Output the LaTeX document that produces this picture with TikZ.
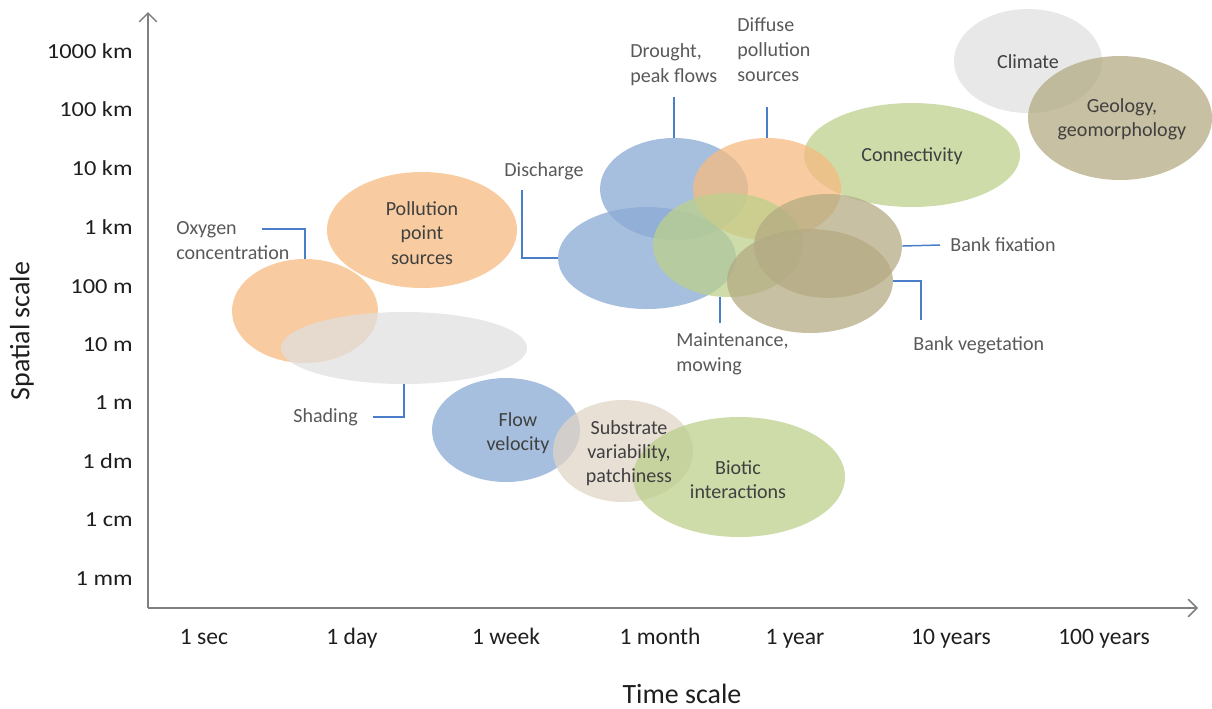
\documentclass[tikz,border=0pt]{standalone}
\usepackage{fontspec}
\setmainfont{Carlito}
\usetikzlibrary{shapes.geometric,arrows.meta}
\definecolor{cOr}{RGB}{246,186,128}
\definecolor{cBl}{RGB}{138,170,212}
\definecolor{cGr}{RGB}{188,208,139}
\definecolor{cKh}{RGB}{180,171,131}
\definecolor{cGy}{RGB}{224,224,224}
\definecolor{cBe}{RGB}{224,212,199}
\definecolor{cConn}{RGB}{74,126,200}
\definecolor{cAxis}{RGB}{128,128,128}
\definecolor{cIn}{RGB}{64,64,64}
\definecolor{cLb}{RGB}{89,89,89}
\definecolor{cAx}{RGB}{30,30,30}
\tikzset{
  ell/.style 2 args={ellipse, minimum width=#1*0.02cm, minimum height=#2*0.02cm, inner sep=0pt, draw=none, fill opacity=0.75},
  inlbl/.style={text=cIn, align=center, inner sep=0pt, font=\fontsize{11.4}{13.8}\selectfont},
  conlbl/.style={text=cLb, align=left, inner sep=0pt, font=\fontsize{11.4}{14.2}\selectfont},
  conn/.style={draw=cConn, line width=0.85pt},
  axis/.style={draw=cAxis, line width=0.85pt, -{Straight Barb[length=5pt,width=10pt]}},
  ytick/.style={text=cAx, anchor=base east, inner sep=0pt, xscale=1.14, font=\fontsize{12.2}{14}\selectfont},
  xtick/.style={text=cAx, anchor=base, inner sep=0pt, font=\fontsize{13.4}{16}\selectfont},
  axtitle/.style={text=cAx, inner sep=0pt, font=\fontsize{15.9}{18}\selectfont}
}
\begin{document}
\begin{tikzpicture}[x=0.02cm,y=-0.02cm]
\useasboundingbox (0,0) rectangle (1212,708);
% ellipses
\node[ell={148}{104}, fill=cGy] (climate) at (1028,61) {};
\node[ell={184}{124}, fill=cKh] (geology) at (1120,118) {};
\node[ell={216}{104}, fill=cGr] (connect) at (912,155) {};
\node[ell={190}{116}, fill=cOr] (pollpt) at (422,230) {};
\node[ell={146}{104}, fill=cOr] (oxy) at (305,311) {};
\node[ell={246}{72}, fill=cGy] (shade) at (404,348) {};
\node[ell={148}{104}, fill=cBl] (flow) at (506,430) {};
\node[ell={140}{102}, fill=cBe] (substr) at (623,451) {};
\node[ell={212}{120}, fill=cGr] (biotic) at (739,477) {};
\node[ell={178}{102}, fill=cBl] (disch) at (647,258) {};
\node[ell={148}{102}, fill=cBl] (drought) at (674,189) {};
\node[ell={148}{102}, fill=cOr] (diffuse) at (767,189) {};
\node[ell={150}{104}, fill=cGr] (maint) at (728,245) {};
\node[ell={148}{104}, fill=cKh] (bankfix) at (828,246) {};
\node[ell={166}{104}, fill=cKh] (bankveg) at (810,281) {};
% inner labels
\node[inlbl] (tClimate) at (1028,62) {Climate};
\node[inlbl] (tGeology) at (1122,119) {Geology,\\geomorphology};
\node[inlbl] (tConnect) at (912,156) {Connectivity};
\node[inlbl] (tPollpt) at (422,233) {Pollution\\point\\sources};
\node[inlbl] (tFlow) at (518,433) {Flow\\velocity};
\node[inlbl] (tSubstr) at (629,453) {Substrate\\variability,\\patchiness};
\node[inlbl] (tBiotic) at (738,480) {Biotic\\interactions};
% connector labels
\node[conlbl, anchor=west] (tOxy) at (176,241) {Oxygen\\concentration};
\node[conlbl, anchor=west] (tShade) at (293,417) {Shading};
\node[conlbl] (tDisch) at (544,171) {Discharge};
\node[conlbl, anchor=west] (tDrought) at (630,65) {Drought,\\peak flows};
\node[conlbl, anchor=west] (tDiffuse) at (737,50) {Diffuse\\pollution\\sources};
\node[conlbl, anchor=west] (tMaint) at (676,354) {Maintenance,\\mowing};
\node[conlbl, anchor=west] (tBankfix) at (950,245) {Bank fixation};
\node[conlbl, anchor=west] (tBankveg) at (913,345) {Bank vegetation};
% connector free ends
\coordinate (cOxy) at (262,229);
\coordinate (cShade) at (373,417);
\coordinate (cDisch) at (522,190);
\coordinate (cDrought) at (674,97);
\coordinate (cDiffuse) at (767,107);
\coordinate (cMaint) at (720,323);
\coordinate (cBankfix) at (940,245);
\coordinate (cBankveg) at (921,320);
\draw[conn] (cOxy) -| (oxy.north);
\draw[conn] (cShade) -| (shade.south);
\draw[conn] (cDisch) |- (disch.west);
\draw[conn] (cDrought) -- (drought.north);
\draw[conn] (cDiffuse) -- (diffuse.north);
\draw[conn] (cMaint) -- (cMaint |- maint.south);
\draw[conn] (bankfix.east) -- (cBankfix);
\draw[conn] (bankveg.east) -| (cBankveg);
% axes
\coordinate (origin) at (148,608);
\coordinate (ytop) at (148,12);
\coordinate (xend) at (1198,608);
\draw[axis] (origin) -- (ytop);
\draw[axis] (origin) -- (xend);
% y ticks
\node[ytick] (y1) at (133,58) {1000 km};
\node[ytick] (y2) at (133,116) {100 km};
\node[ytick] (y3) at (133,175) {10 km};
\node[ytick] (y4) at (133,234) {1 km};
\node[ytick] (y5) at (133,293) {100 m};
\node[ytick] (y6) at (133,351) {10 m};
\node[ytick] (y7) at (133,409) {1 m};
\node[ytick] (y8) at (133,468) {1 dm};
\node[ytick] (y9) at (133,526) {1 cm};
\node[ytick] (y10) at (133,585) {1 mm};
% x ticks
\node[xtick] (x1) at (204,644) {1 sec};
\node[xtick] (x2) at (352,644) {1 day};
\node[xtick] (x3) at (506,644) {1 week};
\node[xtick] (x4) at (660,644) {1 month};
\node[xtick] (x5) at (795,644) {1 year};
\node[xtick] (x6) at (951,644) {10 years};
\node[xtick] (x7) at (1104,644) {100 years};
\node[axtitle, anchor=base] (xt) at (682,703) {Time scale};
\node[axtitle, rotate=90] (yt) at (22,331) {Spatial scale};
\end{tikzpicture}
\end{document}
